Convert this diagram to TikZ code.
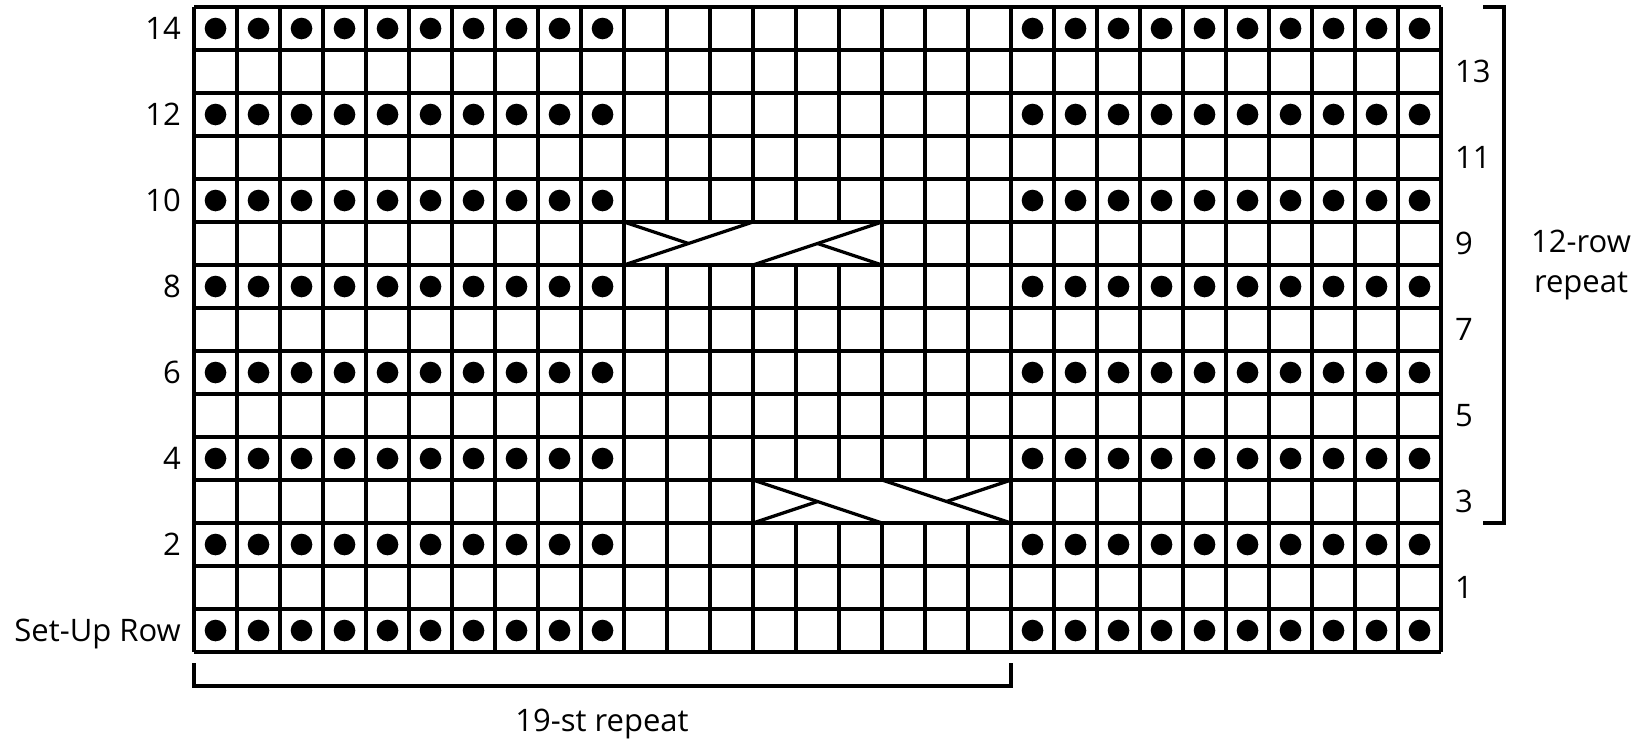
\documentclass[tikz,border=0pt]{standalone}
\usepackage{fontspec}
\setmainfont{Open Sans}
\begin{document}
\begin{tikzpicture}[x=1pt,y=-1pt,
  gridline/.style={line width=3.3pt},
  dot/.style={fill=black},
  cablebox/.style={fill=white,draw=black,line width=3.3pt},
  cableline/.style={line width=3.3pt},
  bracket/.style={line width=3.3pt},
  lbl/.style={font=\fontsize{31}{37}\selectfont,inner sep=0pt}]
\useasboundingbox (0,0) rectangle (1643,739);
% grid
\foreach \i in {0,...,29} \draw[gridline] (194+43*\i,7) -- (194+43*\i,652);
\foreach \j in {0,...,15} \draw[gridline] (194,7+43*\j) -- (1441,7+43*\j);
% dots (r = 0 setup row at bottom)
\foreach \r in {0,2,...,14} {
  \foreach \c in {0,...,9,19,20,...,28} {
    \fill[dot] (215.5+43*\c, 630.5-43*\r) circle[radius=10.8];
  }
}
% cable row 9 (cols 10-15)
\draw[cablebox] (624,222) rectangle (882,265);
\draw[cableline] (624,265) -- (753,222);
\draw[cableline] (753,265) -- (882,222);
\draw[cableline] (624,222) -- (688.5,243.5);
\draw[cableline] (882,265) -- (817.5,243.5);
% cable row 3 (cols 13-18)
\draw[cablebox] (753,480) rectangle (1011,523);
\draw[cableline] (753,480) -- (882,523);
\draw[cableline] (882,480) -- (1011,523);
\draw[cableline] (753,523) -- (817.5,501.5);
\draw[cableline] (1011,480) -- (946.5,501.5);
% left labels
\foreach \r/\t in {14/14,12/12,10/10,8/8,6/6,4/4,2/2} {
  \node[lbl,anchor=base east] (L\r) at (181,641.5-43*\r) {\t};
}
\node[lbl,anchor=base east] (L0) at (181,641.5) {Set-Up Row};
% right labels
\foreach \r in {1,3,...,13} {
  \node[lbl,anchor=base west] (R\r) at (1455,641.5-43*\r) {\r};
}
% right bracket
\coordinate (rb1) at (1483,7);
\coordinate (rb2) at (1504,7);
\coordinate (rb3) at (1504,523);
\coordinate (rb4) at (1483,523);
\draw[bracket] (rb1) -- (rb2) -- (rb3) -- (rb4);
\node[lbl,anchor=base] (rowrep1) at (1581,252) {12-row};
\node[lbl,anchor=base] (rowrep2) at (1581,292) {repeat};
% bottom bracket
\coordinate (bb1) at (194,663);
\coordinate (bb2) at (194,686);
\coordinate (bb3) at (1011,686);
\coordinate (bb4) at (1011,663);
\draw[bracket] (bb1) -- (bb2) -- (bb3) -- (bb4);
\node[lbl,anchor=base] (strep) at (602,731) {19-st repeat};
\end{tikzpicture}
\end{document}
